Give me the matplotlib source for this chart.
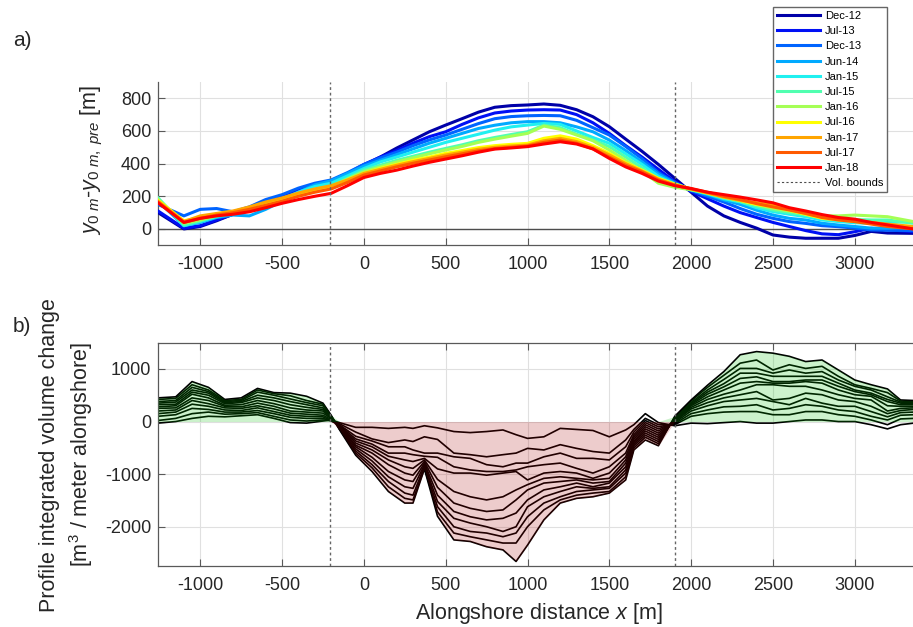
import numpy as np
import matplotlib
matplotlib.use("Agg")
import matplotlib.pyplot as plt
from matplotlib.lines import Line2D

plt.rcParams["font.family"] = ["Liberation Sans", "DejaVu Sans"]
plt.rcParams["mathtext.fontset"] = "custom"
plt.rcParams["mathtext.rm"] = "Liberation Sans"
plt.rcParams["mathtext.it"] = "Liberation Sans:italic"
plt.rcParams["axes.unicode_minus"] = False

# ---- panel a: shoreline position change per survey ----
x_shore = [-1258, -1100, -1000, -900, -800, -700, -600, -500, -400, -300, -200, -100,
           0, 100, 200, 300, 400, 500, 600, 700, 800, 900, 1000, 1100, 1200, 1300,
           1400, 1500, 1600, 1700, 1800, 1900, 2000, 2100, 2200, 2300, 2400, 2500,
           2600, 2700, 2800, 2900, 3000, 3100, 3200, 3360]

dates = ["Dec-12", "Jul-13", "Dec-13", "Jun-14", "Jan-15", "Jul-15",
         "Jan-16", "Jul-16", "Jan-17", "Jul-17", "Jan-18"]
date_colors = ["#0000A8", "#0010F5", "#0064FF", "#00AAFF", "#20F0F0", "#50FFB0",
               "#A5FF55", "#FFFF00", "#FFA500", "#FF5A00", "#FF0000"]

dec12 = [100, 0, 15, 50, 90, 120, 160, 200, 235, 265, 285, 330, 390, 440, 495, 545, 595,
         636, 675, 715, 745, 755, 759, 765, 757, 730, 687, 626, 550, 475, 395, 310, 225,
         140, 80, 40, 5, -37, -50, -57, -57, -57, -40, -15, -25, -27]
jul13 = [110, 5, 20, 55, 90, 125, 165, 205, 240, 270, 290, 340, 395, 440, 480, 525, 565,
         595, 640, 680, 710, 722, 728, 730, 728, 700, 650, 585, 510, 440, 365, 290, 230,
         185, 140, 100, 70, 40, 15, -10, -30, -35, -17, 4, -5, -17]
dec13 = [150, 80, 120, 125, 105, 135, 180, 210, 250, 280, 300, 345, 395, 435, 470, 510,
         545, 575, 610, 645, 675, 688, 693, 695, 693, 665, 620, 575, 505, 430, 345, 285,
         235, 200, 165, 125, 90, 65, 45, 34, 20, 14, 5, -6, -8, -10]
jun14 = [170, 20, 40, 70, 85, 80, 120, 170, 225, 270, 295, 340, 385, 420, 455, 490, 525,
         555, 585, 615, 635, 650, 657, 657, 650, 625, 595, 544, 480, 410, 335, 280, 240,
         210, 178, 150, 115, 85, 65, 55, 35, 24, 15, 5, 5, 10]
jan15 = [185, 20, 45, 75, 95, 110, 140, 185, 225, 260, 280, 325, 370, 410, 440, 470, 500,
         530, 555, 580, 605, 625, 636, 646, 640, 600, 560, 524, 460, 395, 322, 275, 240,
         215, 185, 165, 130, 106, 90, 75, 55, 45, 38, 34, 40, 45]
jul15 = [190, 25, 50, 80, 100, 115, 145, 180, 215, 245, 265, 310, 360, 390, 420, 445, 470,
         493, 515, 540, 560, 578, 595, 636, 620, 580, 545, 504, 440, 375, 305, 265, 240,
         218, 190, 168, 140, 116, 100, 85, 70, 65, 58, 55, 55, 34]
jan16 = [180, 35, 55, 80, 100, 115, 145, 175, 205, 240, 260, 305, 350, 380, 410, 435, 460,
         483, 505, 530, 550, 568, 585, 630, 610, 575, 540, 483, 420, 355, 280, 255, 240,
         222, 200, 175, 150, 126, 110, 95, 80, 80, 85, 80, 75, 45]
jul16 = [175, 50, 70, 90, 105, 125, 150, 180, 210, 235, 255, 300, 340, 370, 395, 420, 440,
         463, 480, 498, 510, 518, 524, 555, 570, 550, 510, 463, 405, 360, 310, 275, 245,
         220, 195, 175, 150, 136, 115, 90, 65, 55, 45, 35, 25, 14]
jan17 = [170, 45, 80, 95, 110, 135, 165, 190, 220, 245, 265, 300, 340, 365, 390, 412, 432,
         453, 470, 488, 500, 508, 514, 540, 555, 535, 500, 453, 400, 355, 305, 270, 245,
         220, 195, 175, 160, 147, 120, 95, 75, 62, 50, 40, 30, 14]
jul17 = [165, 40, 65, 85, 100, 120, 145, 170, 200, 225, 245, 285, 330, 355, 380, 402, 422,
         442, 460, 478, 492, 500, 508, 530, 544, 525, 490, 440, 390, 350, 300, 268, 245,
         225, 200, 180, 155, 135, 116, 95, 70, 55, 45, 30, 15, 0]
jan18 = [160, 40, 65, 80, 90, 105, 130, 157, 180, 200, 218, 265, 315, 340, 360, 385, 408,
         428, 448, 470, 489, 496, 504, 520, 534, 520, 490, 432, 380, 340, 293, 265, 248,
         225, 210, 195, 178, 160, 130, 110, 88, 70, 60, 40, 25, 0]

# ---- panel b: profile integrated volume change per survey ----
x_vol = [-1258, -1150, -1050, -950, -850, -750, -650, -550, -450, -350, -250, -200, -150,
         -50, 50, 150, 250, 300, 370, 450, 550, 650, 750, 850, 930, 1000, 1100, 1200,
         1300, 1400, 1500, 1600, 1650, 1720, 1800, 1900, 2000, 2100, 2200, 2300, 2400,
         2500, 2600, 2700, 2800, 2900, 3000, 3100, 3200, 3280, 3360]

vol_s01 = [-30, 0, 60, 100, 90, 110, 130, 60, -20, -30, 10, 30, -20, -110, -110, -130, -110,
           -130, -80, -120, -190, -210, -190, -160, -250, -320, -290, -130, -150, -170, -290,
           -160, -60, 150, -20, -80, -30, -40, -20, 0, -30, -30, 0, 30, 30, 0, 0, -60, -140,
           -60, -30]
vol_s02 = [20, 60, 150, 180, 140, 150, 170, 100, 30, 10, 30, 20, -40, -200, -330, -400, -350,
           -380, -290, -340, -600, -630, -670, -630, -600, -510, -540, -440, -510, -570, -600,
           -350, -150, 60, -60, -60, 100, 150, 180, 190, 190, 130, 130, 190, 190, 130, 100, 30,
           -60, 50, 60]
vol_s03 = [100, 130, 250, 230, 180, 180, 210, 150, 80, 60, 60, 10, -60, -280, -370, -480,
           -480, -540, -600, -600, -670, -700, -820, -860, -790, -790, -670, -600, -700, -700,
           -730, -480, -200, 20, -100, -40, 150, 220, 280, 290, 320, 220, 250, 320, 290, 220,
           190, 100, 30, 120, 130]
vol_s04 = [150, 180, 330, 290, 220, 210, 260, 190, 120, 100, 90, 20, -70, -330, -430, -600,
           -600, -630, -660, -680, -860, -920, -950, -950, -920, -860, -820, -790, -890, -980,
           -860, -600, -250, -20, -140, -20, 200, 300, 380, 410, 440, 380, 320, 440, 350, 290,
           290, 190, 90, 170, 180]
vol_s05 = [200, 220, 400, 340, 260, 250, 300, 240, 160, 140, 120, 40, -80, -370, -480, -660,
           -730, -760, -700, -900, -980, -980, -1020, -980, -950, -1110, -980, -950, -980,
           -1080, -980, -670, -290, -60, -180, 0, 240, 360, 450, 510, 570, 410, 440, 540, 510,
           410, 380, 290, 150, 210, 230]
vol_s06 = [250, 260, 450, 400, 290, 280, 350, 290, 200, 180, 160, 60, -90, -410, -540, -730,
           -860, -890, -730, -1100, -1330, -1430, -1490, -1430, -1300, -1200, -1080, -1050,
           -1080, -1110, -1080, -730, -330, -100, -220, 10, 270, 420, 520, 600, 700, 700, 670,
           670, 600, 510, 440, 410, 200, 250, 260]
vol_s07 = [280, 300, 520, 450, 310, 320, 400, 340, 260, 220, 200, 70, -100, -450, -600, -820,
           -980, -1020, -760, -1250, -1550, -1650, -1710, -1680, -1490, -1300, -1170, -1140,
           -1110, -1170, -1140, -790, -370, -140, -260, 20, 300, 470, 600, 730, 760, 730, 730,
           760, 730, 600, 510, 480, 300, 290, 290]
vol_s08 = [320, 330, 560, 500, 340, 360, 450, 400, 320, 270, 230, 80, -110, -480, -680, -950,
           -1110, -1140, -790, -1400, -1710, -1810, -1870, -1840, -1740, -1490, -1300, -1240,
           -1170, -1240, -1170, -860, -400, -180, -300, 30, 320, 520, 660, 820, 850, 760, 760,
           790, 790, 670, 570, 510, 380, 320, 320]
vol_s09 = [350, 370, 600, 540, 360, 380, 500, 450, 380, 320, 260, 90, -120, -520, -750, -1050,
           -1240, -1270, -820, -1520, -1840, -1930, -2000, -2090, -2000, -1620, -1430, -1330,
           -1240, -1270, -1240, -920, -430, -220, -340, 40, 340, 560, 720, 920, 920, 860, 860,
           860, 860, 730, 600, 540, 420, 350, 340]
vol_s10 = [380, 400, 650, 570, 380, 400, 560, 500, 430, 360, 300, 100, -130, -560, -820, -1140,
           -1360, -1400, -850, -1620, -2000, -2090, -2120, -2190, -2120, -1810, -1550, -1430,
           -1330, -1300, -1270, -980, -460, -260, -380, 60, 360, 600, 800, 1010, 1010, 920, 980,
           920, 950, 790, 670, 600, 470, 370, 360]
vol_s11 = [420, 440, 700, 600, 400, 420, 600, 530, 490, 400, 330, 110, -140, -600, -880, -1240,
           -1460, -1490, -880, -1720, -2120, -2190, -2250, -2310, -2310, -2000, -1680, -1490,
           -1400, -1360, -1330, -1050, -500, -300, -420, 80, 390, 650, 880, 1110, 1170, 980,
           1080, 1010, 1050, 860, 700, 630, 550, 390, 380]
vol_s12 = [450, 470, 760, 650, 420, 450, 630, 550, 540, 480, 350, 120, -150, -640, -950, -1330,
           -1550, -1550, -900, -1800, -2250, -2280, -2380, -2440, -2660, -2350, -1870, -1550,
           -1460, -1430, -1360, -1110, -540, -350, -460, 100, 410, 690, 950, 1270, 1330, 1300,
           1240, 1140, 1170, 980, 790, 700, 620, 410, 400]

vol_bounds = [-210, 1900]
x_ticks = [-1000, -500, 0, 500, 1000, 1500, 2000, 2500, 3000]

shore_curves = [dec12, jul13, dec13, jun14, jan15, jul15, jan16, jul16, jan17, jul17, jan18]
vol_curves = [vol_s01, vol_s02, vol_s03, vol_s04, vol_s05, vol_s06,
              vol_s07, vol_s08, vol_s09, vol_s10, vol_s11, vol_s12]

fig = plt.figure(figsize=(9.13, 6.27), dpi=100)
ax1 = fig.add_axes([0.1731, 0.6088, 0.8269, 0.2605])
ax2 = fig.add_axes([0.1731, 0.0970, 0.8269, 0.3565])

for ax in (ax1, ax2):
    ax.grid(True, color="0.88", lw=0.8)
    ax.set_axisbelow(True)
    ax.set_xlim(-1258, 3356)
    ax.set_xticks(x_ticks)
    ax.spines["right"].set_visible(False)
    for s in ax.spines.values():
        s.set_color("0.35")
        s.set_linewidth(0.9)
    ax.tick_params(direction="in", length=5, width=0.8, color="0.35",
                   labelcolor="0.15", labelsize=13)
    ax.tick_params(axis="x", pad=8)
    ax.tick_params(axis="y", pad=5)
    for b in vol_bounds:
        ax.axvline(b, color="0.4", lw=1.0, ls=(0, (2, 2)), zorder=4)

# panel a
ax1.spines["top"].set_visible(False)
ax1.axhline(0, color="0.3", lw=1.0, zorder=1)
handles = []
for vals, lab, col in zip(shore_curves, dates, date_colors):
    h, = ax1.plot(x_shore, vals, color=col, lw=2.2, label=lab, zorder=3)
    handles.append(h)
ax1.set_ylim(-100, 900)
ax1.set_yticks([0, 200, 400, 600, 800])

# panel b
ax2.tick_params(top=True)
for vals in vol_curves:
    ax2.plot(x_vol, vals, color="black", lw=1.2, zorder=2)
stack = np.array(vol_curves)
upper = stack.max(axis=0)
lower = stack.min(axis=0)
sign = stack.mean(axis=0)
ax2.fill_between(x_vol, 0, np.where(sign > 0, np.maximum(upper, 0), 0),
                 color=(0, 0.75, 0), alpha=0.2, lw=0, zorder=3)
ax2.fill_between(x_vol, np.where(sign < 0, np.minimum(lower, 0), 0), 0,
                 color=(0.65, 0, 0), alpha=0.2, lw=0, zorder=3)
ax2.set_ylim(-2750, 1500)
ax2.set_yticks([-2000, -1000, 0, 1000])

# labels
W, H = 913.0, 627.0
fig.text(22 / W, 1 - 40 / H, "a)", fontsize=15, color="0.15", ha="center", va="center")
fig.text(22 / W, 1 - 326 / H, "b)", fontsize=15, color="0.15", ha="center", va="center")
fig.text(92 / W, 1 - 160 / H, r"$\mathit{y}_{\mathit{0\ m}}$-$\mathit{y}_{\mathit{0\ m,\ pre}}$ [m]",
         fontsize=15.5, color="0.15", rotation=90, ha="center", va="center")
fig.text(67 / W, 1 - 455 / H, "Profile integrated volume change\n[m$^3$ / meter alongshore]",
         fontsize=15.5, color="0.15", rotation=90, ha="center", va="center",
         multialignment="center", linespacing=1.35)
fig.text(539 / W, 1 - 614 / H, r"Alongshore distance $\mathit{x}$ [m]",
         fontsize=15.5, color="0.15", ha="center", va="center")

handles.append(Line2D([], [], color="0.3", lw=0.8, ls=(0, (2, 2))))
labels = dates + ["Vol. bounds"]
fig.legend(handles, labels, loc="upper right", bbox_to_anchor=(887 / W, 1 - 7 / H),
           fontsize=8, frameon=True, fancybox=False, edgecolor="0.4", framealpha=1,
           handlelength=3.9, handletextpad=0.4, labelspacing=0.47, borderpad=0.35,
           borderaxespad=0)

fig.savefig("out.png", dpi=100)
